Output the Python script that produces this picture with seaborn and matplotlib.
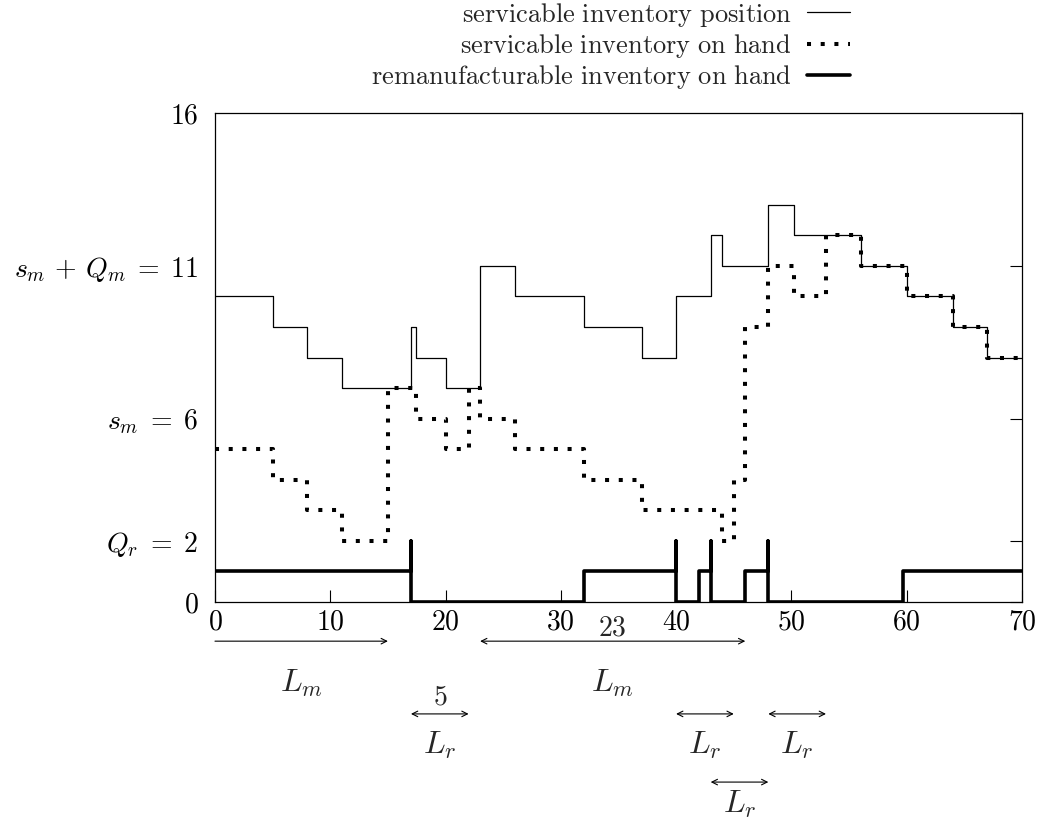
import matplotlib
matplotlib.use("Agg")
import matplotlib.pyplot as plt
import seaborn as sns

# step data (value holds from each time until the next one)
pos_t = [0, 5, 8, 11, 17, 17.4, 20, 23, 26, 32, 37, 40, 43, 44, 48, 50.2, 56, 60, 64, 67, 70]
pos_v = [10, 9, 8, 7, 9, 8, 7, 11, 10, 9, 8, 10, 12, 11, 13, 12, 11, 10, 9, 8, 8]

hand_t = [0, 5, 8, 11, 15, 17.4, 20, 22, 23, 26, 32, 37, 44, 45, 46, 48, 50.2, 53, 56, 60, 64, 67, 70]
hand_v = [5, 4, 3, 2, 7, 6, 5, 7, 6, 5, 4, 3, 2, 4, 9, 11, 10, 12, 11, 10, 9, 8, 8]

rem_t = [0, 17, 17, 32, 40, 40, 42, 43, 43, 46, 48, 48, 59.7, 70]
rem_v = [1, 2, 0, 1, 2, 0, 1, 2, 0, 1, 2, 0, 1, 1]

xticks = [0, 10, 20, 30, 40, 50, 60, 70]
yticks = [0, 2, 6, 11, 16]
ylabels = [r'$0$', r'$Q_r\;=\;2$', r'$s_m\;=\;6$', r'$s_m\,+\,Q_m\;=\;11$', r'$16$']

# lead time arrows: (start, end, row y, style, label, label y, number, number y)
arrows = [
    (0, 15, -1.28, '->', r'$L_m$', -2.65, None, None),
    (23, 46, -1.28, '<->', r'$L_m$', -2.65, r'$23$', -0.85),
    (17, 22, -3.66, '<->', r'$L_r$', -4.68, r'$5$', -3.1),
    (40, 45, -3.66, '<->', r'$L_r$', -4.68, None, None),
    (48, 53, -3.66, '<->', r'$L_r$', -4.68, None, None),
    (43, 48, -5.89, '<->', r'$L_r$', -6.62, None, None),
]

sns.set_style("white")
plt.rcParams['mathtext.fontset'] = 'cm'
plt.rcParams['font.family'] = ['DejaVu Serif']

fig = plt.figure(figsize=(10.37, 8.21), dpi=100)
ax = fig.add_axes([0.2073, 0.2667, 0.7782, 0.5957])

sns.lineplot(x=pos_t, y=pos_v, drawstyle='steps-post', estimator=None, sort=False,
             color='black', lw=0.9, ax=ax, label=r'$\mathrm{servicable\ inventory\ position}$')
sns.lineplot(x=hand_t, y=hand_v, drawstyle='steps-post', estimator=None, sort=False,
             color='black', lw=2.9, linestyle=(0, (1.0, 2.4)), dash_capstyle='butt',
             ax=ax, label=r'$\mathrm{servicable\ inventory\ on\ hand}$')
sns.lineplot(x=rem_t, y=rem_v, drawstyle='steps-post', estimator=None, sort=False,
             color='black', lw=2.6, ax=ax, label=r'$\mathrm{remanufacturable\ inventory\ on\ hand}$')

ax.set_xlim(0, 70)
ax.set_ylim(0, 16)
ax.set_xticks(xticks)
ax.set_xticklabels(['$%d$' % t for t in xticks])
ax.set_yticks(yticks)
ax.set_yticklabels(ylabels)
ax.tick_params(axis='both', direction='in', length=9, width=0.8, labelsize=20,
               colors='black')
ax.tick_params(axis='x', pad=5)
ax.tick_params(axis='y', pad=12, right=True)
ax.tick_params(axis='x', bottom=True)
for s in ax.spines.values():
    s.set_color('black')
    s.set_linewidth(0.9)

for x0, x1, yr, style, lab, ly, num, ny in arrows:
    ax.annotate('', xy=(x1, yr), xytext=(x0, yr), annotation_clip=False,
                arrowprops=dict(arrowstyle=style, color='black', lw=0.8,
                                shrinkA=0, shrinkB=0))
    ax.text((x0 + x1) / 2, ly, lab, ha='center', va='center', fontsize=23, clip_on=False)
    if num:
        ax.text((x0 + x1) / 2, ny, num, ha='center', va='center', fontsize=20, clip_on=False)

leg = ax.legend(loc='lower right', bbox_to_anchor=(0.787, 1.045), frameon=False,
                markerfirst=False, fontsize=19, handlelength=1.65, handletextpad=0.55,
                labelspacing=0.12, borderpad=0, borderaxespad=0)

fig.savefig('out.png', dpi=100)
